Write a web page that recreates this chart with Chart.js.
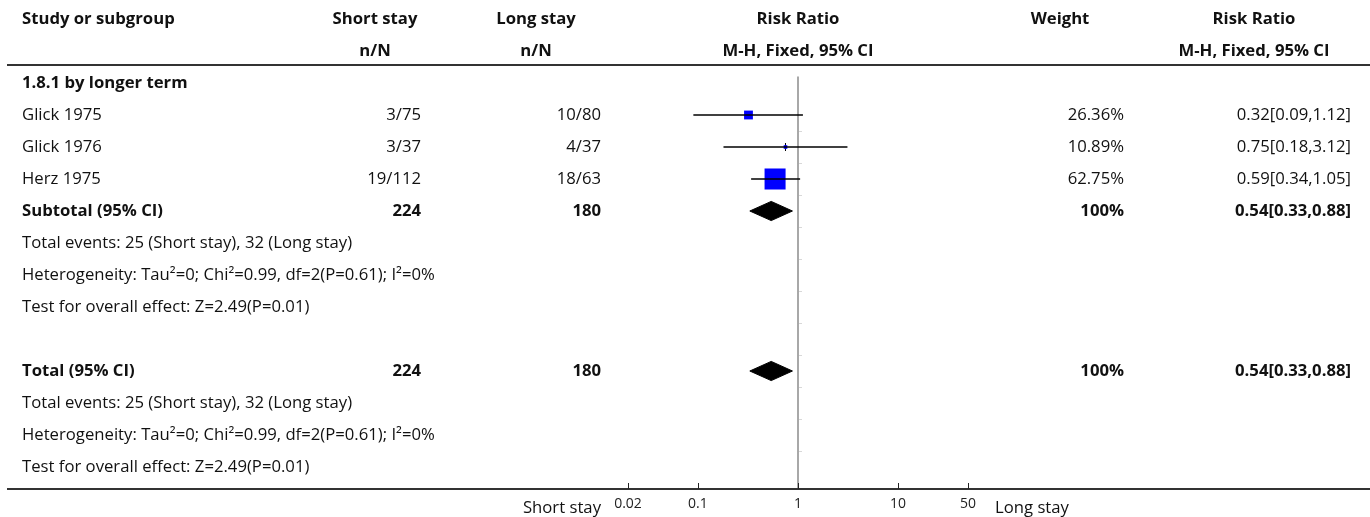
<!DOCTYPE html>
<html>
<head>
<meta charset="utf-8">
<script src="https://cdn.jsdelivr.net/npm/chart.js@4"></script>
<style>
  html, body { margin: 0; padding: 0; background: #fff; }
  #wrap { position: relative; width: 1370px; height: 517px; }
</style>
</head>
<body>
<div id="wrap"><canvas id="forest"></canvas></div>
<script>
// データ
const studies = ['Glick 1975', 'Glick 1976', 'Herz 1975'];
const shortStay = ['3/75', '3/37', '19/112'];
const longStay = ['10/80', '4/37', '18/63'];
const weights = [26.36, 10.89, 62.75];
const riskRatio = [0.32, 0.75, 0.59];
const ciLow = [0.09, 0.18, 0.34];
const ciHigh = [1.12, 3.12, 1.05];
const pooledRR = 0.54;
const pooledLow = 0.33;
const pooledHigh = 0.88;
const totalShort = '224';
const totalLong = '180';
const tickValues = [0.02, 0.1, 1, 10, 50];
const statLines = [
    'Total events: 25 (Short stay), 32 (Long stay)',
    'Heterogeneity: Tau²=0; Chi²=0.99, df=2(P=0.61); I²=0%',
    'Test for overall effect: Z=2.49(P=0.01)'
];

const FONT = '"Open Sans", sans-serif';
const FONT_SIZE = 16.7;
const subtotalRow = studies.length + 1;
const totalRow = subtotalRow + statLines.length + 2;

function fmtCI(est, lo, hi) {
    return est.toFixed(2) + '[' + lo.toFixed(2) + ',' + hi.toFixed(2) + ']';
}

// テーブル描画
const tablePlugin = {
    id: 'forestTable',
    beforeDatasetsDraw(chart) {
        const { ctx, chartArea, scales: { x, y } } = chart;
        const x1 = Math.round(x.getPixelForValue(1));
        ctx.save();
        ctx.strokeStyle = '#a8a8a8';
        ctx.lineWidth = 2;
        ctx.beginPath();
        ctx.moveTo(x1, y.getPixelForValue(-0.2));
        ctx.lineTo(x1, chartArea.bottom);
        ctx.stroke();
        ctx.lineWidth = 1;
        ctx.strokeStyle = '#d8d8d8';
        for (let r = 1.5; r < 12; r++) {
            const py = Math.round(y.getPixelForValue(r)) + 0.5;
            ctx.beginPath();
            ctx.moveTo(x1 + 1, py);
            ctx.lineTo(x1 + 4, py);
            ctx.stroke();
        }
        ctx.restore();
    },
    afterDraw(chart) {
        const { ctx, chartArea, scales: { x, y } } = chart;
        const cx = x.getPixelForValue(1);
        const text = (s, px, row, align, bold) => {
            ctx.font = (bold ? 'bold ' : '') + FONT_SIZE + 'px ' + FONT;
            ctx.textAlign = align;
            ctx.fillText(s, px, y.getPixelForValue(row));
        };
        ctx.save();
        ctx.fillStyle = '#111';
        ctx.textBaseline = 'middle';

        // ヘッダー
        text('Study or subgroup', 22, -2, 'left', true);
        text('Short stay', 375, -2, 'center', true);
        text('n/N', 375, -1, 'center', true);
        text('Long stay', 536, -2, 'center', true);
        text('n/N', 536, -1, 'center', true);
        text('Risk Ratio', cx, -2, 'center', true);
        text('M-H, Fixed, 95% CI', cx, -1, 'center', true);
        text('Weight', 1060, -2, 'center', true);
        text('Risk Ratio', 1254, -2, 'center', true);
        text('M-H, Fixed, 95% CI', 1254, -1, 'center', true);

        text('1.8.1 by longer term', 22, 0, 'left', true);
        studies.forEach((s, i) => {
            const r = i + 1;
            text(s, 22, r, 'left');
            text(shortStay[i], 421, r, 'right');
            text(longStay[i], 601, r, 'right');
            text(weights[i].toFixed(2) + '%', 1124, r, 'right');
            text(fmtCI(riskRatio[i], ciLow[i], ciHigh[i]), 1351, r, 'right');
        });

        [[subtotalRow, 'Subtotal (95% CI)'], [totalRow, 'Total (95% CI)']].forEach(([r, label]) => {
            text(label, 22, r, 'left', true);
            text(totalShort, 421, r, 'right', true);
            text(totalLong, 601, r, 'right', true);
            text('100%', 1124, r, 'right', true);
            text(fmtCI(pooledRR, pooledLow, pooledHigh), 1351, r, 'right', true);
            statLines.forEach((s, k) => text(s, 22, r + 1 + k, 'left'));
        });

        // 罫線
        ctx.strokeStyle = '#333';
        ctx.lineWidth = 2;
        ctx.beginPath();
        ctx.moveTo(7, chartArea.top);
        ctx.lineTo(1370, chartArea.top);
        ctx.moveTo(7, chartArea.bottom);
        ctx.lineTo(1370, chartArea.bottom);
        ctx.stroke();

        // 目盛り
        ctx.lineWidth = 1;
        ctx.strokeStyle = '#222';
        tickValues.forEach(v => {
            const px = Math.round(x.getPixelForValue(v)) + 0.5;
            ctx.beginPath();
            ctx.moveTo(px, chartArea.bottom);
            ctx.lineTo(px, chartArea.bottom - 6);
            ctx.stroke();
        });

        // 軸ラベル
        ctx.font = FONT_SIZE + 'px ' + FONT;
        ctx.textAlign = 'right';
        ctx.fillText('Short stay', 601, chartArea.bottom + 19);
        ctx.textAlign = 'left';
        ctx.fillText('Long stay', 995, chartArea.bottom + 19);
        ctx.restore();
    }
};

const datasets = [];
studies.forEach((s, i) => {
    datasets.push({
        type: 'line',
        data: [{ x: ciLow[i], y: i + 1 }, { x: ciHigh[i], y: i + 1 }],
        borderColor: '#000',
        borderWidth: 1.5,
        pointRadius: 0
    });
});
datasets.push({
    type: 'scatter',
    data: studies.map((s, i) => ({ x: riskRatio[i], y: i + 1 })),
    pointStyle: 'rect',
    pointRadius: weights.map(w => w * 0.335 / Math.SQRT2),
    backgroundColor: '#0000ff',
    borderWidth: 0
});
datasets.push({
    type: 'scatter',
    data: studies.map((s, i) => ({ x: riskRatio[i], y: i + 1 })),
    pointStyle: 'line',
    rotation: 90,
    pointRadius: 4,
    borderColor: '#000',
    borderWidth: 1
});
[subtotalRow, totalRow].forEach(r => {
    const h = 0.3;
    datasets.push({
        type: 'line',
        data: [
            { x: pooledLow, y: r }, { x: pooledRR, y: r - h },
            { x: pooledHigh, y: r }, { x: pooledRR, y: r + h },
            { x: pooledLow, y: r }
        ],
        fill: 'shape',
        backgroundColor: '#000',
        borderColor: '#000',
        borderWidth: 1,
        pointRadius: 0,
        tension: 0
    });
});

new Chart(document.getElementById('forest'), {
    type: 'scatter',
    data: { datasets },
    options: {
        responsive: true,
        maintainAspectRatio: false,
        animation: false,
        layout: { padding: { left: 628, right: 402, top: 65, bottom: 0 } },
        plugins: { legend: { display: false }, tooltip: { enabled: false } },
        scales: {
            x: {
                type: 'logarithmic',
                min: 0.02,
                max: 50,
                afterBuildTicks: s => { s.ticks = tickValues.map(v => ({ value: v })); },
                afterFit: s => { s.height = 28; },
                grid: { display: false, drawTicks: false },
                border: { display: false },
                ticks: {
                    autoSkip: false,
                    maxRotation: 0,
                    padding: 7,
                    color: '#222',
                    font: { family: 'Open Sans', size: 14 },
                    callback: v => String(v)
                }
            },
            y: {
                type: 'linear',
                reverse: true,
                min: -0.5625,
                max: 12.6875,
                display: false
            }
        }
    },
    plugins: [tablePlugin]
});
</script>
</body>
</html>
